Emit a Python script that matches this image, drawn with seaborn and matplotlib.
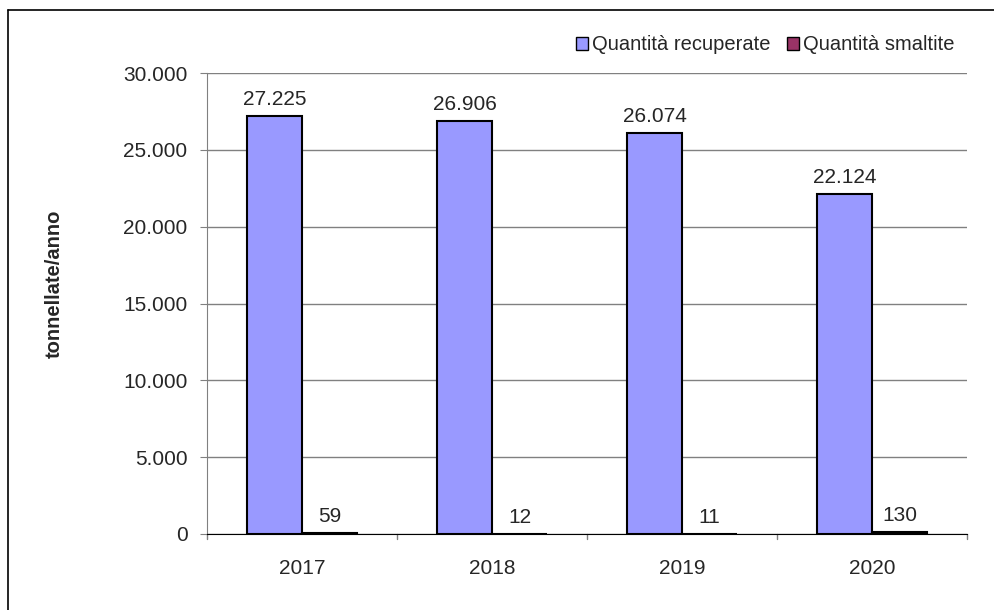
import numpy as np
import pandas as pd
import matplotlib.pyplot as plt
import matplotlib.patches as mpatches
import seaborn as sns

anni = ['2017', '2018', '2019', '2020']
recuperate = [27225, 26906, 26074, 22124]
smaltite = [59, 12, 11, 130]
serie = ['Quantità recuperate', 'Quantità smaltite']
colori = ['#9999FF', '#993366']

df = pd.DataFrame({
    'anno': anni * 2,
    'valore': recuperate + smaltite,
    'serie': [serie[0]] * 4 + [serie[1]] * 4,
})

sns.set_style('white')
plt.rcParams['font.family'] = ['Liberation Sans', 'DejaVu Sans']

fig = plt.figure(figsize=(9.95, 6.1), dpi=100)
ax = fig.add_axes([0.208, 0.1246, 0.764, 0.7557])

sns.barplot(data=df, x='anno', y='valore', hue='serie', palette=colori,
            saturation=1, width=0.58, edgecolor='black', linewidth=1.5,
            ax=ax, legend=False)

def fmt(v):
    return f'{v:,}'.replace(',', '.')

for cont in ax.containers:
    labels = [fmt(int(b.get_height())) for b in cont]
    ax.bar_label(cont, labels=labels, padding=5, fontsize=15)

ax.set_ylim(0, 30000)
ax.set_xlim(-0.5, 3.5)
ax.set_yticks(np.arange(0, 30001, 5000))
ax.set_yticklabels([fmt(int(t)) for t in np.arange(0, 30001, 5000)], fontsize=15)
ax.tick_params(axis='x', labelsize=15, length=0, pad=18)
ax.tick_params(axis='y', length=5, direction='out', left=True, color='#808080', pad=9)
ax.set_xlabel('')
ax.set_ylabel('tonnellate/anno', fontsize=14.5, fontweight='bold')
ax.yaxis.set_label_coords(-0.188, 0.542)

ax.yaxis.grid(True, color='#808080', linewidth=1)
ax.set_axisbelow(True)
for s in ['top', 'right']:
    ax.spines[s].set_visible(False)
ax.spines['left'].set_color('#808080')
ax.spines['bottom'].set_color('black')

# category boundary ticks on x axis
for xb in [-0.5, 0.5, 1.5, 2.5, 3.5]:
    ax.plot([xb, xb], [0, -350], color='#808080', linewidth=1, clip_on=False)

handles = [mpatches.Patch(facecolor=c, edgecolor='black', label=l) for c, l in zip(colori, serie)]
fig.legend(handles=handles, loc='center right', bbox_to_anchor=(955 / 995, 1 - 45 / 610), ncol=2,
           frameon=False, fontsize=14.5, handlelength=0.6, handleheight=0.6,
           handletextpad=0.2, columnspacing=0.85, borderpad=0, borderaxespad=0)

# outer border
fig.add_artist(plt.Line2D([8 / 995, 8 / 995], [0, 1 - 10 / 610], color='black', linewidth=1.2))
fig.add_artist(plt.Line2D([8 / 995, 1], [1 - 10 / 610, 1 - 10 / 610], color='black', linewidth=1.2))

fig.savefig('out.png', dpi=100)
